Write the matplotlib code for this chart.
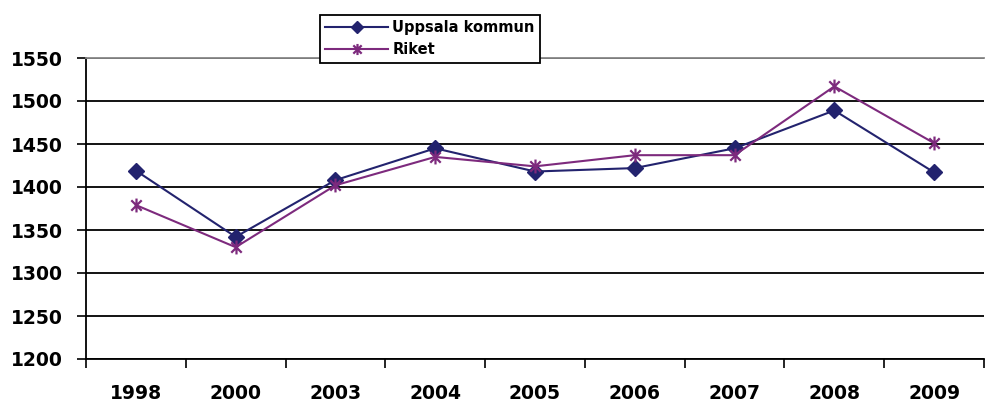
import matplotlib
matplotlib.use("Agg")
import matplotlib.pyplot as plt
from matplotlib.path import Path
import numpy as np

years = ["1998", "2000", "2003", "2004", "2005", "2006", "2007", "2008", "2009"]
uppsala = [1419, 1342, 1408, 1445, 1418, 1422, 1445, 1489, 1417]
riket = [1379, 1330, 1402, 1435, 1424, 1437, 1437, 1517, 1451]
yticks = [1200, 1250, 1300, 1350, 1400, 1450, 1500, 1550]

plt.rcParams['font.family'] = ['DejaVu Sans']

star = Path([(0, -1), (0, 1), (-0.75, -0.75), (0.75, 0.75), (-0.75, 0.75), (0.75, -0.75)],
            [Path.MOVETO, Path.LINETO, Path.MOVETO, Path.LINETO, Path.MOVETO, Path.LINETO])

fig = plt.figure(figsize=(9.85, 4.07), dpi=100)
ax = fig.add_axes([86/985, 1-359/407, (984-86)/985, (359-58)/407])

x = np.arange(len(years))
ax.plot(x, uppsala, color='#23236E', lw=1.5, marker='D', ms=8, label='Uppsala kommun', zorder=3)
ax.plot(x, riket, color='#7D2A7D', lw=1.5, marker=star, ms=10, mew=1.6, label='Riket', zorder=3)

ax.set_xlim(-0.5, len(years) - 0.5)
ax.set_ylim(1200, 1550)
ax.set_yticks(yticks)
ax.set_yticklabels([str(v) for v in yticks], fontsize=13.5, fontweight='bold')
ax.set_xticks(x)
ax.set_xticklabels(years, fontsize=13.5, fontweight='bold')
ax.tick_params(axis='x', length=0, pad=18)
ax.set_xticks(np.arange(-0.5, len(years), 1), minor=True)
ax.tick_params(axis='x', which='minor', length=6.5, width=1.2, direction='out')
ax.tick_params(axis='y', length=6.5, width=1.2, direction='out', pad=10)

ax.grid(axis='y', color='black', lw=1.3, zorder=1)
ax.set_axisbelow(True)
for s in ['left', 'bottom']:
    ax.spines[s].set_linewidth(1.3)
    ax.spines[s].set_color('black')
ax.spines['top'].set_color('#888888')
ax.spines['top'].set_linewidth(1.3)
ax.spines['right'].set_visible(False)

leg = fig.legend(loc='upper left', bbox_to_anchor=(320/985, 1-15/407), frameon=True,
                 fancybox=False, edgecolor='black', framealpha=1,
                 prop={'weight': 'bold', 'size': 10.5}, handlelength=4.3,
                 borderpad=0.37, labelspacing=0.47, handletextpad=0.3, borderaxespad=0)
leg.get_frame().set_linewidth(1.3)
leg.legend_handles[0].set_markersize(6.5)
leg.legend_handles[1].set_markersize(8)

fig.savefig('out.png', dpi=100)
